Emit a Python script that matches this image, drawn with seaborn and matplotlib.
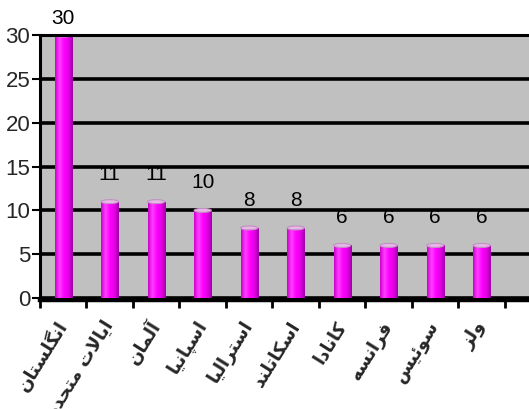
import numpy as np
import pandas as pd
import matplotlib
matplotlib.use("Agg")
import matplotlib.pyplot as plt
import seaborn as sns

# Countries and their counts
countries = ["انگلستان", "ایالات متحده", "آلمان", "اسپانیا", "استرالیا",
             "اسکاتلند", "کانادا", "فرانسه", "سوئیس", "ولز"]
counts = [30, 11, 11, 10, 8, 8, 6, 6, 6, 6]
y_ticks = [0, 5, 10, 15, 20, 25, 30]

# Contextual forms (isolated, final, initial, medial) for the letters used
FORMS = {
    "ا": (0xFE8D, 0xFE8E, None, None),
    "آ": (0xFE81, 0xFE82, None, None),
    "ب": (0xFE8F, 0xFE90, 0xFE91, 0xFE92),
    "پ": (0xFB56, 0xFB57, 0xFB58, 0xFB59),
    "ت": (0xFE95, 0xFE96, 0xFE97, 0xFE98),
    "ح": (0xFEA1, 0xFEA2, 0xFEA3, 0xFEA4),
    "د": (0xFEA9, 0xFEAA, None, None),
    "ر": (0xFEAD, 0xFEAE, None, None),
    "ز": (0xFEAF, 0xFEB0, None, None),
    "س": (0xFEB1, 0xFEB2, 0xFEB3, 0xFEB4),
    "ف": (0xFED1, 0xFED2, 0xFED3, 0xFED4),
    "ک": (0xFB8E, 0xFB8F, 0xFB90, 0xFB91),
    "گ": (0xFB92, 0xFB93, 0xFB94, 0xFB95),
    "ل": (0xFEDD, 0xFEDE, 0xFEDF, 0xFEE0),
    "م": (0xFEE1, 0xFEE2, 0xFEE3, 0xFEE4),
    "ن": (0xFEE5, 0xFEE6, 0xFEE7, 0xFEE8),
    "ه": (0xFEE9, 0xFEEA, 0xFEEB, 0xFEEC),
    "و": (0xFEED, 0xFEEE, None, None),
    "ی": (0xFBFC, 0xFBFD, 0xFBFE, 0xFBFF),
    "ئ": (0xFE89, 0xFE8A, 0xFE8B, 0xFE8C),
}


def joins_next(ch):
    return ch in FORMS and FORMS[ch][2] is not None


def shape(text):
    """Join Persian letters into presentation forms and lay them out left to right."""
    out = []
    i = 0
    n = len(text)
    while i < n:
        ch = text[i]
        if ch not in FORMS:
            out.append(ch)
            i += 1
            continue
        prev = text[i - 1] if i > 0 else ""
        joined_prev = joins_next(prev)
        if ch == "ل" and i + 1 < n and text[i + 1] == "ا":
            out.append(chr(0xFEFC if joined_prev else 0xFEFB))
            i += 2
            continue
        nxt = text[i + 1] if i + 1 < n else ""
        joined_next = joins_next(ch) and nxt in FORMS
        iso, fin, ini, med = FORMS[ch]
        if joined_prev and joined_next:
            code = med
        elif joined_prev:
            code = fin
        elif joined_next:
            code = ini
        else:
            code = iso
        out.append(chr(code))
        i += 1
    return "".join(out)[::-1]


df = pd.DataFrame({"country": countries, "count": counts})

sns.set_theme(style="white")
plt.rcParams["font.family"] = ["Liberation Sans", "DejaVu Sans"]

fig = plt.figure(figsize=(5.29, 4.09), dpi=100)
ax = fig.add_axes([0.0756, 0.266, 0.98, 0.648])
ax.set_facecolor("#C0C0C0")

sns.barplot(data=df, x="country", y="count", color="#FF00FF",
            width=0.37, saturation=1, linewidth=0, ax=ax, zorder=3)

# Cylinder shading across each bar
shade = np.array([[0.80, 0.0, 0.80], [1.0, 0.25, 1.0], [1.0, 0.0, 1.0],
                  [0.90, 0.0, 0.90], [0.62, 0.0, 0.66]])
grad = np.array([np.interp(np.linspace(0, 1, 64), np.linspace(0, 1, len(shade)),
                           shade[:, k]) for k in range(3)]).T[None, :, :]
for bar in ax.patches:
    x0, w, h = bar.get_x(), bar.get_width(), bar.get_height()
    im = ax.imshow(grad, extent=[x0, x0 + w, 0, h], aspect="auto",
                   zorder=4, interpolation="bilinear")
    im.set_clip_path(bar)
    ax.add_patch(matplotlib.patches.Ellipse((x0 + w / 2, h), w, 0.45,
                                            facecolor="#E8B8E8", edgecolor="#C090C0",
                                            lw=0.8, zorder=5))

value_labels = ax.bar_label(ax.containers[0], labels=[str(v) for v in counts],
                            padding=13, fontsize=15, color="black", zorder=6)
# The tallest bar's label sits closer so it stays inside the figure
top = int(np.argmax(counts))
value_labels[top].xyann = (0, 5)

ax.set_xlim(-0.5, 10.65)
ax.set_ylim(-0.25, 30)
ax.set_yticks(y_ticks)
ax.set_yticklabels([str(v) for v in y_ticks], fontsize=16)

for v in y_ticks[1:-1]:
    ax.axhline(v, color="black", lw=2.6, zorder=2)
ax.axhline(0, color="black", lw=2.6, zorder=2)

ax.set_xticks(range(len(countries)))
ax.set_xticklabels([shape(c) for c in countries], rotation=58,
                   ha="right", va="center", rotation_mode="anchor",
                   fontsize=13, fontweight="bold", family=["DejaVu Sans"])
ax.set_xticks(np.arange(-0.5, 10.6, 1.0), minor=True)
ax.tick_params(axis="x", which="major", length=0, pad=16)
ax.tick_params(axis="x", which="minor", length=6, width=2, color="black",
               direction="out", bottom=True)
ax.tick_params(axis="y", length=6, width=1.5, color="black", direction="out",
               left=True, pad=1)

ax.set_xlabel("")
ax.set_ylabel("")
for side in ["top", "right"]:
    ax.spines[side].set_visible(False)
ax.spines["left"].set_linewidth(2.2)
ax.spines["left"].set_color("black")
ax.spines["bottom"].set_linewidth(3.2)
ax.spines["bottom"].set_color("black")
ax.plot([0, 1], [1, 1], transform=ax.transAxes, color="black", lw=2.2,
        clip_on=False, zorder=7)

fig.savefig("out.png", dpi=100)
